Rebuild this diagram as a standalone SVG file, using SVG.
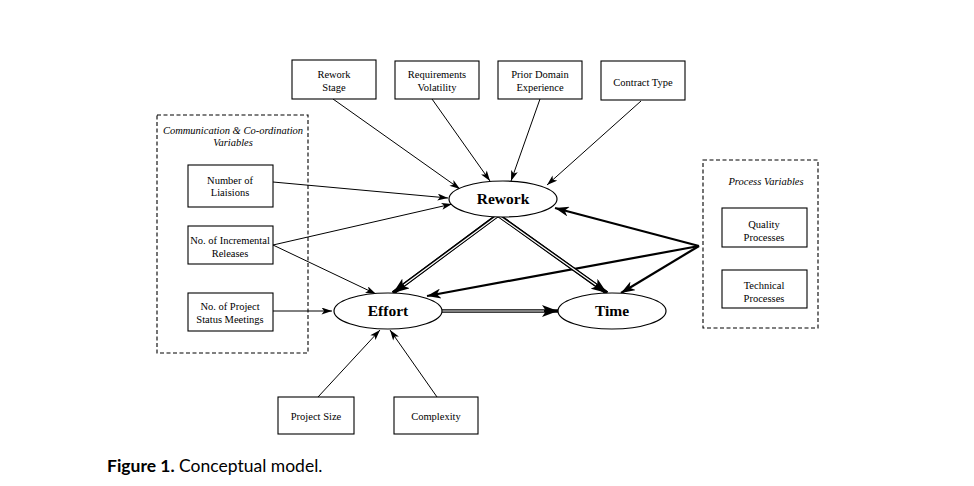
<svg xmlns="http://www.w3.org/2000/svg" width="974" height="486" viewBox="0 0 974 486">
<style>
.box{fill:#fff;stroke:#000;stroke-width:1.1}
.dash{fill:none;stroke:#000;stroke-width:1.1;stroke-dasharray:4,2.5}
.ell{fill:#fff;stroke:#000;stroke-width:1.2}
.t{font-family:"Liberation Serif",serif;font-size:10.5px;text-anchor:middle;fill:#000}
.ti{font-family:"Liberation Serif",serif;font-size:10.5px;font-style:italic;text-anchor:middle;fill:#000}
.big{font-family:"Liberation Serif",serif;font-size:15.5px;font-weight:bold;text-anchor:middle;fill:#000}
.thin{fill:none;stroke:#000;stroke-width:1}
.thick{fill:none;stroke:#000;stroke-width:2.2}
.dbl{fill:none;stroke:#000;stroke-width:3.6}
.dblw{fill:none;stroke:#fff;stroke-width:1.2}
.cap{font-family:Lato,"Open Sans",sans-serif;font-size:17.5px;fill:#000}
</style>
<defs>
<marker id="ah" viewBox="0 0 12 8" refX="12" refY="4" markerWidth="11" markerHeight="7" markerUnits="userSpaceOnUse" orient="auto"><path d="M0,0 L12,4 L0,8 L3,4 z" fill="#000"/></marker>
<marker id="ahb" viewBox="0 0 14 10" refX="14" refY="5" markerWidth="14" markerHeight="10" markerUnits="userSpaceOnUse" orient="auto"><path d="M0,0 L14,5 L0,10 L4,5 z" fill="#000"/></marker>
<marker id="ahd" viewBox="0 0 16 12" refX="16" refY="6" markerWidth="16" markerHeight="12" markerUnits="userSpaceOnUse" orient="auto"><path d="M0,0 L16,6 L0,12 L4,6 z" fill="#000"/></marker>
</defs>
<rect width="974" height="486" fill="#fff"/>

<g id="connectors">
<line class="thin" x1="333" y1="99" x2="460" y2="189" marker-end="url(#ah)"/>
<line class="thin" x1="432" y1="99" x2="490" y2="181" marker-end="url(#ah)"/>
<line class="thin" x1="540" y1="99" x2="511" y2="181" marker-end="url(#ah)"/>
<line class="thin" x1="641" y1="101" x2="547" y2="185" marker-end="url(#ah)"/>
<line class="thin" x1="273" y1="182" x2="448" y2="198" marker-end="url(#ah)"/>
<line class="thin" x1="273" y1="245" x2="452" y2="204" marker-end="url(#ah)"/>
<line class="thin" x1="273" y1="245" x2="376" y2="294" marker-end="url(#ah)"/>
<line class="thin" x1="273" y1="311" x2="332" y2="311" marker-end="url(#ah)"/>
<line class="thin" x1="318" y1="397" x2="380" y2="330" marker-end="url(#ah)"/>
<line class="thin" x1="437" y1="397" x2="390" y2="330" marker-end="url(#ah)"/>
<line class="thick" x1="699" y1="246" x2="555" y2="208" marker-end="url(#ahb)"/>
<line class="thick" x1="699" y1="246" x2="427" y2="296" marker-end="url(#ahb)"/>
<line class="thick" x1="699" y1="246" x2="621" y2="293" marker-end="url(#ahb)"/>
<path class="dbl" d="M393,293 L498,215 L607,293"/>
<line class="dbl" x1="498" y1="215" x2="393" y2="293" marker-end="url(#ahd)"/>
<line class="dbl" x1="498" y1="215" x2="607" y2="293" marker-end="url(#ahd)"/>
<path class="dblw" d="M404,285 L498,215.5 L596,285"/>
<line class="dbl" x1="442" y1="311" x2="558" y2="311" marker-end="url(#ahd)"/>
<line class="dblw" x1="442" y1="311" x2="544" y2="311"/>
</g>

<g id="comm-group">
<rect class="dash" x="157" y="115" width="151" height="238"/>
<text class="ti" x="233" y="134">Communication &amp; Co-ordination</text>
<text class="ti" x="233" y="146">Variables</text>
</g>
<g id="process-group">
<rect class="dash" x="703" y="160" width="115" height="168"/>
<text class="ti" x="766" y="185">Process Variables</text>
</g>

<g id="rework-stage"><rect class="box" x="292" y="60" width="84" height="39"/><text class="t" x="334" y="78">Rework</text><text class="t" x="334" y="91">Stage</text></g>
<g id="req-volatility"><rect class="box" x="395" y="61" width="84" height="38"/><text class="t" x="437" y="78">Requirements</text><text class="t" x="437" y="91">Volatility</text></g>
<g id="prior-domain"><rect class="box" x="498" y="61" width="84" height="38"/><text class="t" x="540" y="78">Prior Domain</text><text class="t" x="540" y="91">Experience</text></g>
<g id="contract-type"><rect class="box" x="601" y="61" width="84" height="39"/><text class="t" x="643" y="86">Contract Type</text></g>

<g id="liaisions"><rect class="box" x="188" y="165" width="85" height="42"/><text class="t" x="230" y="184">Number of</text><text class="t" x="230" y="196">Liaisions</text></g>
<g id="incremental"><rect class="box" x="188" y="226" width="85" height="38"/><text class="t" x="230" y="244">No. of Incremental</text><text class="t" x="230" y="257">Releases</text></g>
<g id="status-meetings"><rect class="box" x="188" y="293" width="85" height="38"/><text class="t" x="230" y="310">No. of Project</text><text class="t" x="230" y="323">Status Meetings</text></g>

<g id="quality"><rect class="box" x="722" y="208" width="85" height="39"/><text class="t" x="764" y="228">Quality</text><text class="t" x="764" y="241">Processes</text></g>
<g id="technical"><rect class="box" x="722" y="270" width="85" height="38"/><text class="t" x="764" y="289">Technical</text><text class="t" x="764" y="302">Processes</text></g>

<g id="rework"><ellipse class="ell" cx="503" cy="199" rx="54" ry="18"/><text class="big" x="503" y="204">Rework</text></g>
<g id="effort"><ellipse class="ell" cx="388" cy="311" rx="54" ry="18"/><text class="big" x="388" y="316">Effort</text></g>
<g id="time"><ellipse class="ell" cx="612" cy="311" rx="54" ry="18"/><text class="big" x="612" y="316">Time</text></g>

<g id="project-size"><rect class="box" x="278" y="397" width="76" height="37"/><text class="t" x="316" y="420">Project Size</text></g>
<g id="complexity"><rect class="box" x="394" y="397" width="84" height="37"/><text class="t" x="436" y="420">Complexity</text></g>

<text class="cap" x="107" y="472"><tspan font-weight="bold">Figure 1.</tspan> Conceptual model.</text>
</svg>
